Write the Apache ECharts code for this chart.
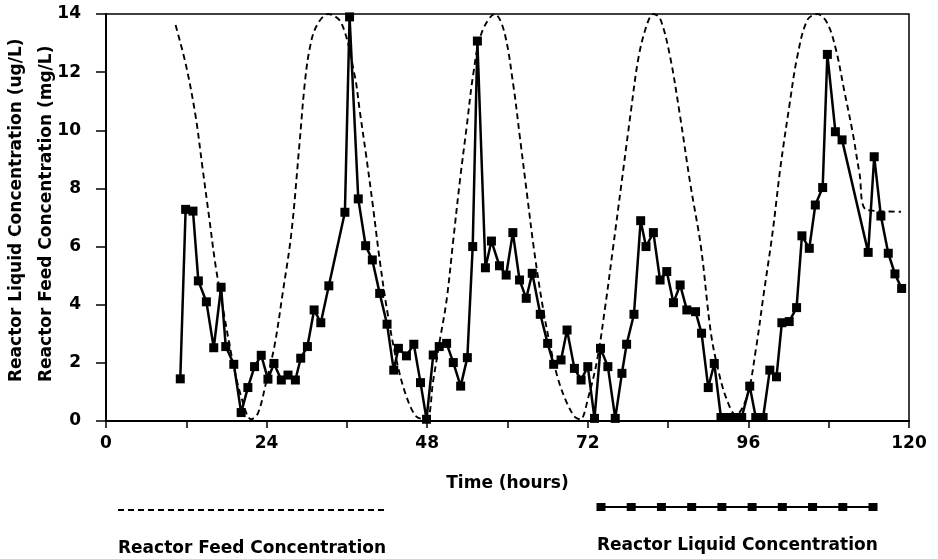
<!DOCTYPE html>
<html>
<head>
<meta charset="utf-8">
<script src="https://cdn.jsdelivr.net/npm/echarts@6/dist/echarts.min.js"></script>
<style>
  html, body { margin: 0; padding: 0; background: #fff; }
  #chart { width: 938px; height: 559px; }
</style>
</head>
<body>
<div id="chart"></div>
<script>
// Reactor liquid concentration (ug/L), sampled roughly hourly
const liquidHours = [11.1, 11.9, 13.0, 13.8, 15.0, 16.1, 17.2, 17.9, 19.1, 20.2, 21.2, 22.2, 23.2, 24.2, 25.1, 26.2, 27.2, 28.3, 29.1, 30.1,
  31.1, 32.1, 33.3, 35.7, 36.4, 37.7, 38.8, 39.8, 40.9, 42.0, 43.0, 43.7, 44.9, 46.0, 47.0, 47.9, 48.9, 49.8, 50.9, 51.9,
  53.0, 54.0, 54.8, 55.5, 56.7, 57.6, 58.8, 59.8, 60.8, 61.8, 62.8, 63.7, 64.9, 66.0, 66.9, 68.0, 68.9, 70.0, 71.0, 72.0,
  73.0, 73.9, 75.0, 76.1, 77.1, 77.8, 78.9, 79.9, 80.7, 81.8, 82.8, 83.8, 84.8, 85.8, 86.8, 88.1, 89.0, 90.0, 90.9, 91.9,
  93.0, 94.0, 95.0, 96.2, 97.1, 98.2, 99.2, 100.2, 101.0, 102.1, 103.2, 104.0, 105.1, 106.0, 107.1, 107.8, 109.0, 110.0,
  113.9, 114.8, 115.8, 116.9, 117.9, 118.9];
const liquidConc = [1.45, 7.28, 7.22, 4.82, 4.10, 2.52, 4.60, 2.56, 1.95, 0.29, 1.15, 1.87, 2.26, 1.44, 1.98, 1.41, 1.58, 1.41, 2.16, 2.56,
  3.82, 3.38, 4.65, 7.18, 13.9, 7.64, 6.03, 5.54, 4.39, 3.33, 1.75, 2.50, 2.24, 2.64, 1.32, 0.06, 2.27, 2.56, 2.67, 2.01,
  1.20, 2.18, 6.00, 13.07, 5.27, 6.19, 5.34, 5.02, 6.48, 4.85, 4.22, 5.08, 3.67, 2.67, 1.95, 2.10, 3.13, 1.81, 1.41, 1.87,
  0.09, 2.50, 1.87, 0.09, 1.64, 2.64, 3.67, 6.89, 6.00, 6.48, 4.85, 5.14, 4.07, 4.68, 3.82, 3.76, 3.02, 1.15, 1.98, 0.12,
  0.12, 0.12, 0.12, 1.20, 0.12, 0.12, 1.75, 1.52, 3.38, 3.42, 3.90, 6.37, 5.94, 7.43, 8.03, 12.61, 9.95, 9.67,
  5.80, 9.09, 7.05, 5.77, 5.06, 4.56];

// Reactor feed concentration (mg/L), cyclic feed profile
const feedHours = [10.4, 12.0, 13.4, 14.4, 15.4, 16.4, 17.7, 18.9, 20.2, 21.7, 22.7, 23.9, 25.2, 26.4, 27.7, 28.9, 29.7, 30.4, 31.4, 33.2,
  35.2, 37.2, 37.9, 38.9, 39.9, 40.9, 42.0, 43.4, 44.9, 46.4, 47.9, 48.9, 49.9, 50.9, 51.9, 52.9, 53.9, 54.9, 56.1, 58.1,
  59.5, 60.9, 61.9, 62.9, 63.9, 65.1, 66.4, 67.6, 68.9, 70.1, 70.9, 72.1, 73.4, 74.6, 75.8, 77.1, 78.4, 79.6, 80.9, 81.8,
  82.8, 84.3, 85.8, 87.3, 88.9, 90.4, 91.6, 92.8, 94.1, 95.8, 97.1, 98.3, 99.6, 100.8, 102.1, 103.3, 104.8, 106.3, 107.8,
  109.1, 110.3, 111.6, 112.6, 113.7, 118.8];
const feedConc = [13.62, 12.19, 10.47, 8.75, 7.03, 5.31, 3.59, 2.10, 0.84, 0.06, 0.26, 1.30, 2.61, 4.39, 6.46, 9.50, 11.60, 12.76, 13.56, 14.0,
  13.68, 11.84, 10.70, 9.09, 7.37, 5.54, 3.82, 2.10, 0.84, 0.15, 0.06, 1.40, 2.79, 4.16, 6.23, 8.29, 10.12, 11.96, 13.33, 14.0,
  13.40, 11.50, 9.67, 7.83, 6.00, 4.16, 2.56, 1.41, 0.61, 0.13, 0.06, 0.84, 2.10, 3.93, 6.00, 8.29, 10.58, 12.53, 13.68, 14.0,
  13.85, 12.53, 10.47, 8.18, 6.00, 3.02, 1.64, 0.72, 0.20, 0.84, 2.44, 4.39, 6.46, 8.75, 10.81, 12.53, 13.79, 14.0, 13.68,
  12.76, 11.39, 9.90, 8.52, 7.26, 7.20];

const xLabeledTicks = [0, 24, 48, 72, 96, 120];
const feedName = 'Reactor Feed Concentration';
const liquidName = 'Reactor Liquid Concentration';
const yTitleLines = ['Reactor Liquid Concentration (ug/L)', 'Reactor Feed Concentration (mg/L)'];

const FONT = 'DejaVu Sans';
const zip = (xs, ys) => xs.map((x, i) => [x, ys[i]]);

const chart = echarts.init(document.getElementById('chart'), null, { renderer: 'canvas' });

// legend swatches drawn under the plot
const legendMarkers = [];
const lx0 = 601, lx1 = 873, ly = 507;
for (let i = 0; i < 10; i++) {
  const cx = lx0 + (lx1 - lx0) * i / 9;
  legendMarkers.push({ type: 'rect', shape: { x: cx - 4.5, y: ly - 4, width: 9, height: 8 }, style: { fill: '#000' } });
}

chart.setOption({
  animation: false,
  backgroundColor: '#fff',
  grid: { left: 106, right: 29, top: 14, bottom: 138, show: true, borderColor: '#000', borderWidth: 1.5, backgroundColor: 'transparent' },
  xAxis: {
    type: 'value', min: 0, max: 120, interval: 12,
    name: 'Time (hours)', nameLocation: 'middle', nameGap: 54,
    nameTextStyle: { fontFamily: FONT, fontWeight: 'bold', fontSize: 17, color: '#000' },
    axisLine: { lineStyle: { color: '#000', width: 2 } },
    axisTick: { length: 7, lineStyle: { color: '#000', width: 1.5 } },
    axisLabel: {
      margin: 14, fontFamily: FONT, fontWeight: 'bold', fontSize: 17, color: '#000',
      formatter: v => xLabeledTicks.includes(v) ? String(v) : ''
    },
    splitLine: { show: false }
  },
  yAxis: {
    type: 'value', min: 0, max: 14, interval: 2,
    axisLine: { show: true, lineStyle: { color: '#000', width: 2 } },
    axisTick: { show: true, length: 10, lineStyle: { color: '#000', width: 1.5 } },
    axisLabel: { margin: 25, fontFamily: FONT, fontWeight: 'bold', fontSize: 17, color: '#000' },
    splitLine: { show: false }
  },
  series: [
    {
      name: feedName, type: 'line', data: zip(feedHours, feedConc),
      smooth: 0.35, showSymbol: false, symbol: 'none', clip: true,
      lineStyle: { color: '#000', width: 1.9, type: [6, 4] }, z: 2
    },
    {
      name: liquidName, type: 'line', data: zip(liquidHours, liquidConc),
      symbol: 'rect', symbolSize: 9, clip: false,
      itemStyle: { color: '#000' },
      lineStyle: { color: '#000', width: 2.5 }, z: 3
    }
  ],
  graphic: [
    { type: 'text', x: 17, y: 382, rotation: Math.PI / 2,
      style: { text: yTitleLines[0], font: 'bold 17px "DejaVu Sans"', fill: '#000', align: 'left', verticalAlign: 'middle' } },
    { type: 'text', x: 47, y: 382, rotation: Math.PI / 2,
      style: { text: yTitleLines[1], font: 'bold 17px "DejaVu Sans"', fill: '#000', align: 'left', verticalAlign: 'middle' } },
    { type: 'line', shape: { x1: 118, y1: 510, x2: 384, y2: 510 }, style: { stroke: '#000', lineWidth: 1.8, lineDash: [6, 4] } },
    { type: 'text', x: 118, y: 549,
      style: { text: feedName, font: 'bold 17px "DejaVu Sans"', fill: '#000', align: 'left', verticalAlign: 'middle' } },
    { type: 'line', shape: { x1: lx0, y1: ly, x2: lx1, y2: ly }, style: { stroke: '#000', lineWidth: 2 } },
    ...legendMarkers,
    { type: 'text', x: 597, y: 546,
      style: { text: liquidName, font: 'bold 17px "DejaVu Sans"', fill: '#000', align: 'left', verticalAlign: 'middle' } }
  ]
});
</script>
</body>
</html>
